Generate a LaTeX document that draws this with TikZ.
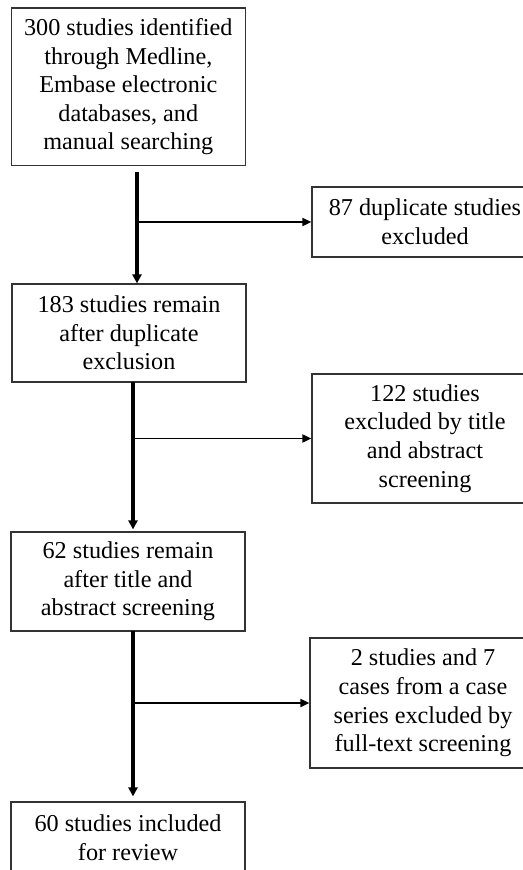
\documentclass[tikz,border=0pt]{standalone}
\usepackage{fontspec}
\setmainfont{Liberation Serif}
\usetikzlibrary{arrows.meta}

\begin{document}
\begin{tikzpicture}[x=0.5pt,y=-0.5pt]
    \tikzset{stagebox/.style={draw=black!80,line width=0.6pt,align=center,inner sep=2pt,
            font=\fontsize{12.1pt}{14.3pt}\selectfont},
        mainbox/.style={stagebox,minimum width=117pt},
        exclbox/.style={stagebox,minimum width=113pt},
        mainarrow/.style={line width=1.6pt,-{Triangle[length=4.5pt,width=4.5pt]}},
        sidearrow/.style={line width=0.9pt,-{Triangle[length=4.5pt,width=4pt]}}}
    \clip (0,0) rectangle (523,870);
    \node[mainbox,minimum height=78.8pt] (ident) at (128.3,86.8) {300 studies identified\\through Medline,\\Embase electronic\\databases, and\\manual searching};
    \node[mainbox,minimum height=49pt] (dedup) at (129,333) {183 studies remain\\after duplicate\\exclusion};
    \node[mainbox,minimum height=49.5pt] (screen) at (128,581.5) {62 studies remain\\after title and\\abstract screening};
    \node[mainbox,minimum height=35.5pt] (review) at (128,837.5) {60 studies included\\for review};
    \node[exclbox,minimum height=35pt] (dupl) at (425,222) {87 duplicate studies\\excluded};
    \node[exclbox,minimum height=64.5pt] (title) at (425,438.5) {122 studies\\excluded by title\\and abstract\\screening};
    \node[exclbox,minimum height=65pt] (full) at (423,703) {2 studies and 7\\cases from a case\\series excluded by\\full-text screening};
    \coordinate (split1) at (137,172);
    \coordinate (split2) at (133,382);
    \coordinate (split3) at (133,631);
    \draw[mainarrow] (split1) -- (split1 |- dedup.north);
    \draw[mainarrow,shorten >=1pt] (split2) -- (split2 |- screen.north);
    \draw[mainarrow,shorten >=2.5pt] (split3) -- (split3 |- review.north);
    \draw[sidearrow] (split1 |- dupl.west) -- (dupl.west);
    \draw[sidearrow] (split2 |- title.west) -- (title.west);
    \draw[sidearrow] (split3 |- full.west) -- (full.west);
\end{tikzpicture}
\end{document}
